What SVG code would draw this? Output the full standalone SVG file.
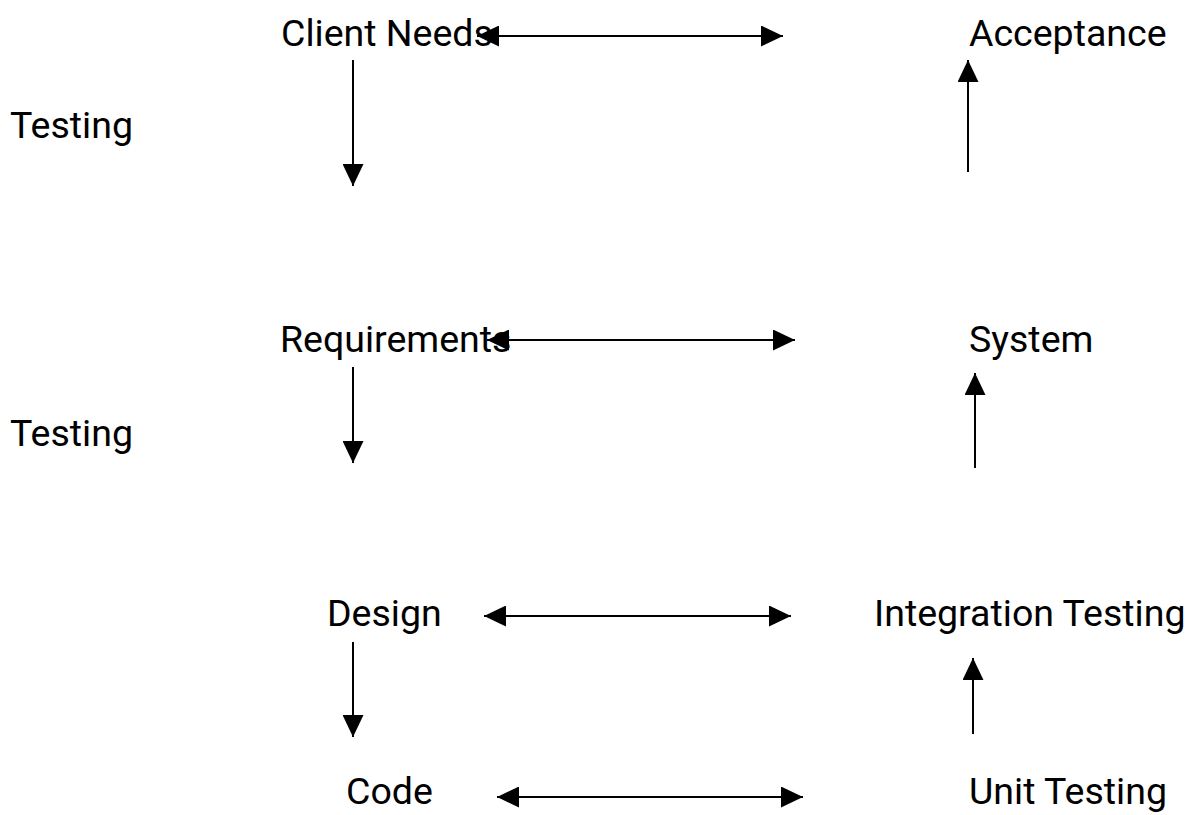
<svg xmlns="http://www.w3.org/2000/svg" width="1197" height="815" viewBox="0 0 1197 815">
  <style>
    .label { font-family: Roboto, "Liberation Sans", sans-serif; font-size: 37.5px; fill: #000; }
    .conn { stroke: #000; stroke-width: 2; fill: none; }
    .one { marker-end: url(#head); }
    .two { marker-start: url(#head); marker-end: url(#head); }
  </style>
  <defs>
    <marker id="head" viewBox="0 0 22 21" refX="22" refY="10.5" markerWidth="22" markerHeight="21" markerUnits="userSpaceOnUse" orient="auto-start-reverse">
      <path d="M0,0 L22,10.5 L0,21 Z" fill="#000"/>
    </marker>
  </defs>
  <rect width="1197" height="815" fill="#fff"/>

  <!-- left column: specification stages -->
  <g id="client-needs"><text class="label" x="281" y="46">Client Needs</text></g>
  <g id="testing-1"><text class="label" x="10" y="138">Testing</text></g>
  <g id="requirements"><text class="label" x="280" y="352">Requirements</text></g>
  <g id="testing-2"><text class="label" x="10" y="446">Testing</text></g>
  <g id="design"><text class="label" x="327" y="626">Design</text></g>
  <g id="code"><text class="label" x="346" y="804">Code</text></g>

  <!-- right column: testing stages -->
  <g id="acceptance"><text class="label" x="969" y="46">Acceptance</text></g>
  <g id="system"><text class="label" x="969" y="352">System</text></g>
  <g id="integration-testing"><text class="label" x="874" y="626">Integration Testing</text></g>
  <g id="unit-testing"><text class="label" x="969" y="804">Unit Testing</text></g>

  <g id="connectors">
    <!-- level correspondences -->
    <line class="conn two" x1="477" y1="36" x2="783" y2="36"/>
    <line class="conn two" x1="487" y1="340" x2="795" y2="340"/>
    <line class="conn two" x1="484" y1="616" x2="791" y2="616"/>
    <line class="conn two" x1="497" y1="797" x2="803" y2="797"/>
    <!-- descending branch -->
    <line class="conn one" x1="353" y1="60" x2="353" y2="186"/>
    <line class="conn one" x1="353" y1="367" x2="353" y2="463"/>
    <line class="conn one" x1="353" y1="642" x2="353" y2="737"/>
    <!-- ascending branch -->
    <line class="conn one" x1="968" y1="172" x2="968" y2="60"/>
    <line class="conn one" x1="975" y1="468" x2="975" y2="373"/>
    <line class="conn one" x1="973" y1="734" x2="973" y2="658"/>
  </g>
</svg>
